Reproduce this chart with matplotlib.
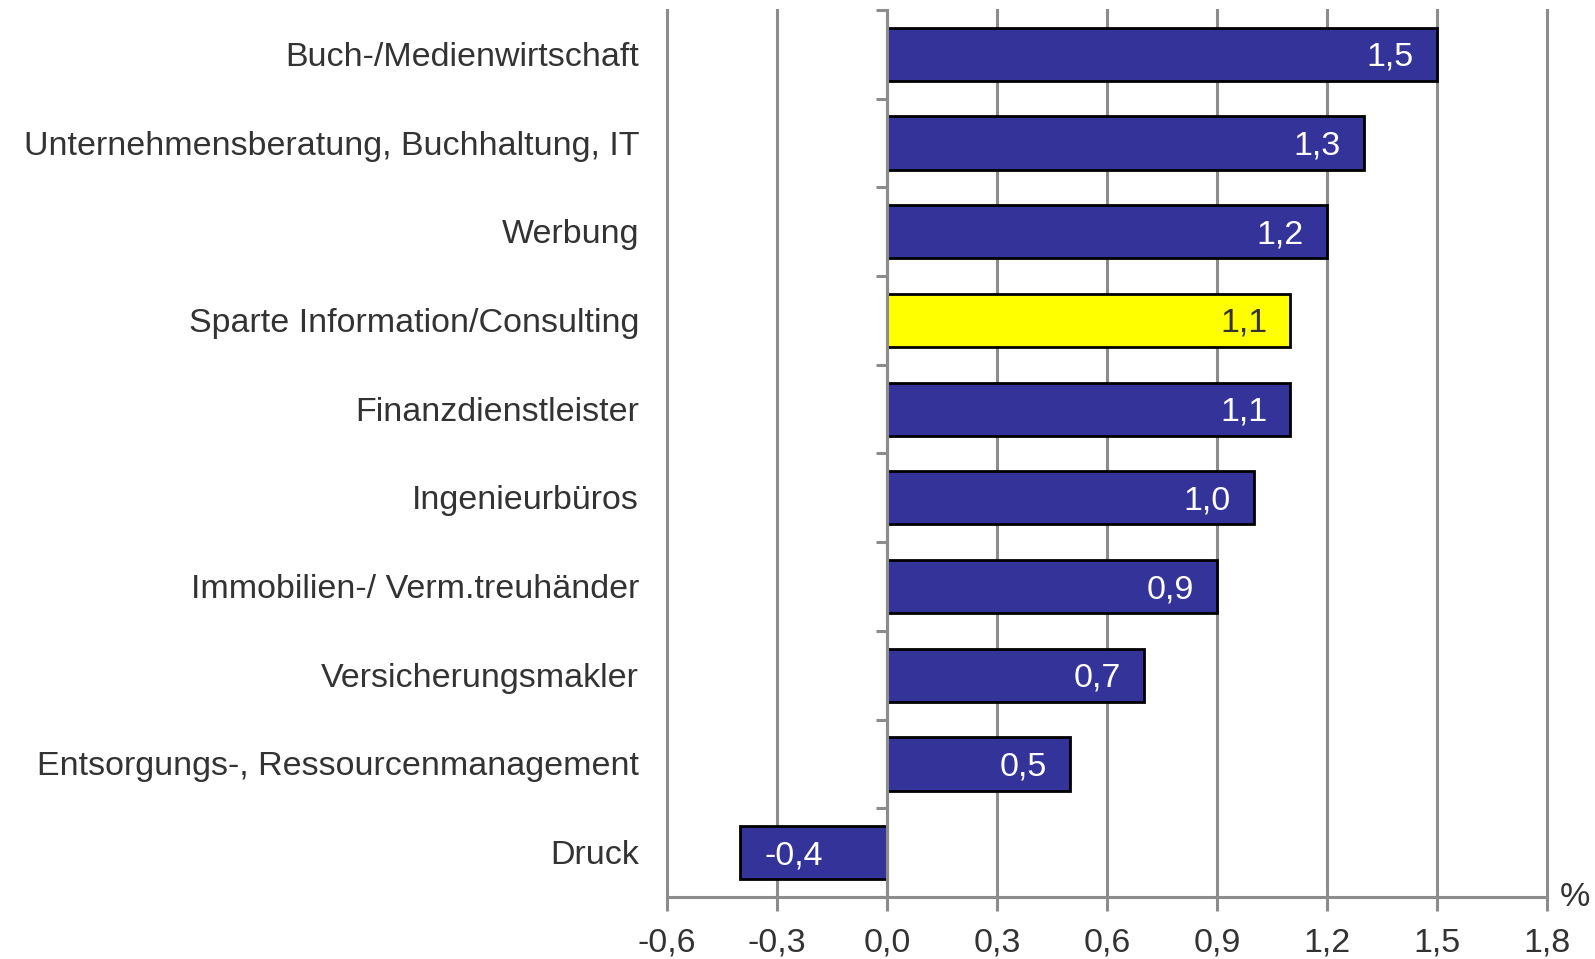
import matplotlib
matplotlib.use("Agg")
import matplotlib.pyplot as plt
import numpy as np
from matplotlib.transforms import offset_copy

plt.rcParams['font.family'] = ['Liberation Sans', 'DejaVu Sans']

categories = ["Buch-/Medienwirtschaft", "Unternehmensberatung, Buchhaltung, IT", "Werbung",
              "Sparte Information/Consulting", "Finanzdienstleister", "Ingenieurbüros",
              "Immobilien-/ Verm.treuhänder", "Versicherungsmakler",
              "Entsorgungs-, Ressourcenmanagement", "Druck"]
values = [1.5, 1.3, 1.2, 1.1, 1.1, 1.0, 0.9, 0.7, 0.5, -0.4]
highlight = "Sparte Information/Consulting"
xticks = [-0.6, -0.3, 0.0, 0.3, 0.6, 0.9, 1.2, 1.5, 1.8]

NAVY = "#333399"
YELLOW = "#FFFF00"
GRID = "#8c8c8c"
TXT = "#333333"
FS = 24.5

fig = plt.figure(figsize=(15.95, 9.59), dpi=100)
ax = fig.add_axes([667/1595, 1-897/959, (1547-667)/1595, (897-10)/959])

y = np.arange(len(categories))
colors = [YELLOW if c == highlight else NAVY for c in categories]
ax.barh(y, values, height=0.6, color=colors, edgecolor="black", linewidth=2.0, zorder=3)

ax.set_xlim(-0.6, 1.8)
ax.set_ylim(len(categories) - 0.5, -0.5)

ax.set_xticks(xticks)
ax.set_xticklabels([f"{t:.1f}".replace(".", ",") for t in xticks], fontsize=FS, color=TXT)
ax.tick_params(axis='x', direction='out', length=10, width=2.2, color=GRID, pad=12)

ax.set_yticks(np.arange(-0.5, len(categories), 1.0))
ax.set_yticklabels([])
ax.tick_params(axis='y', direction='out', length=8, width=2.2, color=GRID)

ax.grid(axis='x', color=GRID, linewidth=2.2, zorder=0)
ax.set_axisbelow(True)
for gl in ax.get_xgridlines():
    gl.set_clip_on(False)

for s in ['top', 'right']:
    ax.spines[s].set_visible(False)
ax.spines['left'].set_position(('data', 0))
ax.spines['left'].set_color(GRID)
ax.spines['left'].set_linewidth(2.2)
ax.spines['left'].set_zorder(4)
ax.spines['bottom'].set_color(GRID)
ax.spines['bottom'].set_linewidth(2.2)

# category labels
lab_tr = offset_copy(ax.get_yaxis_transform(), fig=fig, x=-28, y=-3, units='dots')
for yi, c in zip(y, categories):
    ax.text(0, yi, c, transform=lab_tr, ha='right', va='center', fontsize=FS, color=TXT)

# value labels
for yi, v, col in zip(y, values, colors):
    txt = f"{v:.1f}".replace(".", ",")
    tc = TXT if col == YELLOW else "white"
    if v >= 0:
        tr = offset_copy(ax.transData, fig=fig, x=-23, y=-3, units='dots')
        ax.text(v, yi, txt, transform=tr, ha='right', va='center', fontsize=FS, color=tc, zorder=5)
    else:
        tr = offset_copy(ax.transData, fig=fig, x=24, y=-3, units='dots')
        ax.text(v, yi, txt, transform=tr, ha='left', va='center', fontsize=FS, color=tc, zorder=5)

pct_tr = offset_copy(ax.transAxes, fig=fig, x=13, y=0, units='dots')
ax.text(1.0, 0.0, "%", transform=pct_tr, ha='left', va='center', fontsize=FS, color=TXT)

fig.savefig("out.png", dpi=100)
